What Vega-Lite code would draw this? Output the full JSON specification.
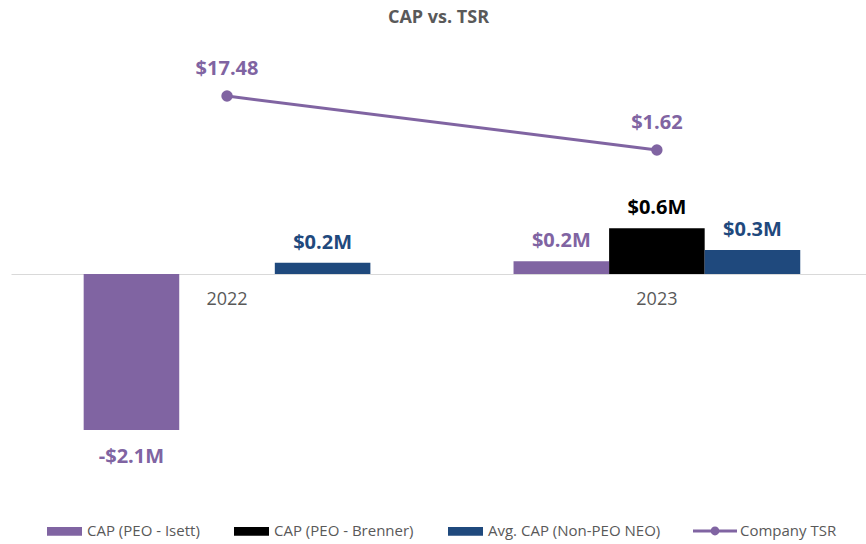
{
  "$schema": "https://vega.github.io/schema/vega-lite/v6.json",
  "autosize": "none",
  "width": 855,
  "height": 490,
  "padding": {"left": 11, "top": 30, "right": 0, "bottom": 24},
  "background": "white",
  "title": {"text": "CAP vs. TSR", "font": "Open Sans", "fontSize": 18, "fontWeight": "bold", "color": "#595959", "anchor": "middle", "offset": 3},
  "config": {"view": {"stroke": null}, "font": "Open Sans"},
  "datasets": {
    "bars": [
      {"year": "2022", "series": "CAP (PEO - Isett)", "value": -2.08, "label": "-$2.1M"},
      {"year": "2022", "series": "Avg. CAP (Non-PEO NEO)", "value": 0.15, "label": "$0.2M"},
      {"year": "2023", "series": "CAP (PEO - Isett)", "value": 0.17, "label": "$0.2M"},
      {"year": "2023", "series": "CAP (PEO - Brenner)", "value": 0.61, "label": "$0.6M"},
      {"year": "2023", "series": "Avg. CAP (Non-PEO NEO)", "value": 0.32, "label": "$0.3M"}
    ],
    "tsr": [
      {"year": "2022", "series": "Company TSR", "tsr": 17.48, "label": "$17.48"},
      {"year": "2023", "series": "Company TSR", "tsr": 1.62, "label": "$1.62"}
    ]
  },
  "encoding": {
    "x": {
      "field": "year", "type": "nominal",
      "scale": {"paddingInner": 0.333, "paddingOuter": 0.161, "align": 0.525},
      "axis": {"title": null, "offset": -246, "domainColor": "#D9D9D9", "domainWidth": 1, "ticks": false, "labelPadding": 16, "labelFontSize": 18, "labelColor": "#595959", "labelFont": "Open Sans", "labelAngle": 0}
    }
  },
  "layer": [
    {
      "data": {"name": "bars"},
      "mark": {"type": "bar"},
      "encoding": {
        "xOffset": {"field": "series", "type": "nominal", "scale": {"domain": ["CAP (PEO - Isett)", "CAP (PEO - Brenner)", "Avg. CAP (Non-PEO NEO)"], "paddingInner": 0, "paddingOuter": 0}},
        "y": {"field": "value", "type": "quantitative", "scale": {"domain": [-3.28, 3.2533], "nice": false, "zero": false}, "axis": null},
        "color": {
          "field": "series", "type": "nominal",
          "scale": {"domain": ["CAP (PEO - Isett)", "CAP (PEO - Brenner)", "Avg. CAP (Non-PEO NEO)"], "range": ["#8064A2", "#000000", "#1F497D"]},
          "legend": {"title": null, "orient": "none", "legendX": 36, "legendY": 483.5, "direction": "horizontal", "padding": 0, "symbolType": "M-1,-0.25H1V0.25H-1Z", "symbolSize": 1225, "symbolStrokeWidth": 0, "labelFont": "Open Sans", "labelFontSize": 15, "labelColor": "#595959", "labelOffset": 5, "columnPadding": 34, "labelLimit": 300}
        }
      }
    },
    {
      "data": {"name": "bars"},
      "transform": [{"filter": "datum.value >= 0"}],
      "mark": {"type": "text", "baseline": "middle", "dy": -20, "font": "Open Sans", "fontSize": 20, "fontWeight": "bold"},
      "encoding": {
        "xOffset": {"field": "series", "type": "nominal", "scale": {"domain": ["CAP (PEO - Isett)", "CAP (PEO - Brenner)", "Avg. CAP (Non-PEO NEO)"], "paddingInner": 0, "paddingOuter": 0}},
        "y": {"field": "value", "type": "quantitative", "scale": {"domain": [-3.28, 3.2533], "nice": false, "zero": false}, "axis": null},
        "text": {"field": "label"},
        "color": {"field": "series", "type": "nominal", "legend": null}
      }
    },
    {
      "data": {"name": "bars"},
      "transform": [{"filter": "datum.value < 0"}],
      "mark": {"type": "text", "baseline": "middle", "dy": 27, "font": "Open Sans", "fontSize": 20, "fontWeight": "bold"},
      "encoding": {
        "xOffset": {"field": "series", "type": "nominal", "scale": {"domain": ["CAP (PEO - Isett)", "CAP (PEO - Brenner)", "Avg. CAP (Non-PEO NEO)"], "paddingInner": 0, "paddingOuter": 0}},
        "y": {"field": "value", "type": "quantitative", "scale": {"domain": [-3.28, 3.2533], "nice": false, "zero": false}, "axis": null},
        "text": {"field": "label"},
        "color": {"field": "series", "type": "nominal", "legend": null}
      }
    },
    {
      "data": {"name": "tsr"},
      "mark": {"type": "line", "strokeWidth": 3},
      "encoding": {
        "y": {"field": "tsr", "type": "quantitative", "scale": {"domain": [-107.05, 36.865], "nice": false, "zero": false}, "axis": null},
        "stroke": {
          "field": "series", "type": "nominal",
          "scale": {"domain": ["Company TSR"], "range": ["#8064A2"]},
          "legend": {"title": null, "orient": "none", "legendX": 682, "legendY": 479, "direction": "horizontal", "padding": 0, "symbolType": "M-1,-0.07H1V0.07H-1Z M0,-0.2A0.2,0.2 0 1,1 0,0.2A0.2,0.2 0 1,1 0,-0.2Z", "symbolSize": 1936, "symbolStrokeWidth": 0, "symbolFillColor": "#8064A2", "labelFont": "Open Sans", "labelFontSize": 15, "labelColor": "#595959", "labelOffset": 3,
            "encode": {"symbols": {"update": {"fill": {"value": "#8064A2"}, "strokeWidth": {"value": 0}}}}}
        }
      }
    },
    {
      "data": {"name": "tsr"},
      "mark": {"type": "point", "filled": true, "size": 130, "color": "#8064A2", "opacity": 1},
      "encoding": {
        "y": {"field": "tsr", "type": "quantitative", "scale": {"domain": [-107.05, 36.865], "nice": false, "zero": false}, "axis": null}
      }
    },
    {
      "data": {"name": "tsr"},
      "mark": {"type": "text", "baseline": "middle", "dy": -27, "font": "Open Sans", "fontSize": 20, "fontWeight": "bold", "color": "#8064A2"},
      "encoding": {
        "y": {"field": "tsr", "type": "quantitative", "scale": {"domain": [-107.05, 36.865], "nice": false, "zero": false}, "axis": null},
        "text": {"field": "label"}
      }
    }
  ],
  "resolve": {"scale": {"y": "independent"}}
}
